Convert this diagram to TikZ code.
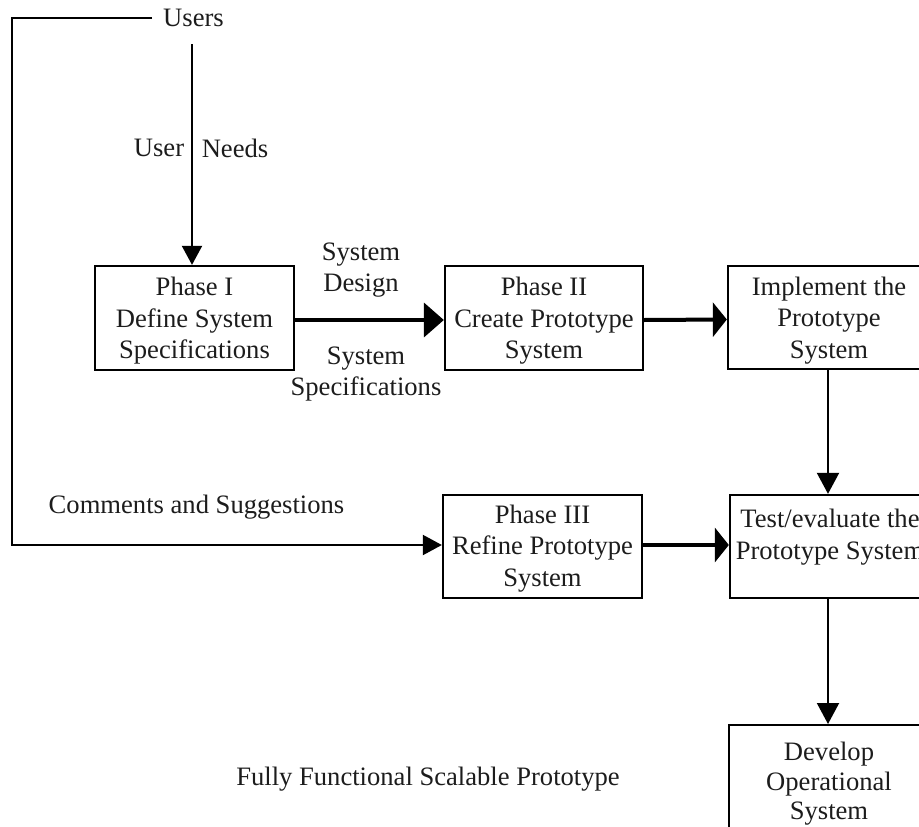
\documentclass[tikz,border=0pt]{standalone}
\usepackage{fontspec}
\setmainfont{Liberation Serif}
\usetikzlibrary{arrows.meta}
\definecolor{ink}{HTML}{1C1C1C}
\begin{document}
\begin{tikzpicture}[x=1pt,y=-1pt,
  every node/.style={text=ink, inner sep=0pt,
    font=\fontsize{26.6}{31.5}\selectfont},
  stagebox/.style={draw=black, line width=2.3pt, rectangle},
  label/.style={align=center},
  thinline/.style={draw=black, line width=2pt},
  thinarrow/.style={thinline, -{Triangle[length=19pt,width=20pt]}},
  downarrow/.style={thinline, -{Triangle[length=21pt,width=22pt]}},
  bigarrow/.style={draw=black, line width=4pt,
    -{Triangle[length=#1,width=34pt]}},
  bigarrow/.default=20pt
]
\useasboundingbox (0,0) rectangle (919,827);
\clip (0,0) rectangle (919,827);

% process stages: frame first, then its text
\node[stagebox, minimum width=199pt, minimum height=104pt] (p1) at (194.5,318) {};
\node[label] (p1txt) at ([yshift=-3pt]p1.center) {Phase I\\Define System\\Specifications};

\node[stagebox, minimum width=198pt, minimum height=104pt] (p2) at (544,318) {};
\node[label] (p2txt) at ([yshift=-3pt]p2.center) {Phase II\\Create Prototype\\System};

\node[stagebox, minimum width=202pt, minimum height=103pt] (impl) at (829,317.5) {};
\node[label] (impltxt) at ([yshift=-3pt]impl.center) {Implement the\\Prototype\\System};

\node[stagebox, minimum width=199pt, minimum height=103pt] (p3) at (542.5,546.5) {};
\node[label] (p3txt) at ([yshift=-2pt]p3.center) {Phase III\\Refine Prototype\\System};

\node[stagebox, minimum width=200pt, minimum height=103pt] (test) at (830,546.5) {};
\node[label, anchor=north] (testtxt) at ([yshift=-15pt]test.north)
  {Test/evaluate the\\Prototype System};

\node[stagebox, anchor=north, minimum width=200pt, minimum height=160pt]
  (dev) at (829,724) {};
\node[label, anchor=north, font=\fontsize{26.6}{29.5}\selectfont] (devtxt)
  at ([yshift=-18pt]dev.north) {Develop\\Operational\\System};

% free labels
\node (users) at (193.5,18) {Users};
\node (userlbl) at (159,148) {User};
\node (needslbl) at (235,148) {Needs};
\node[label] (design) at (361,270) {System\\Design};
\node[label] (specs) at (366,374) {System\\Specifications};
\node (comments) at (196.5,507) {Comments and Suggestions};
\node (fully) at (428,779) {Fully Functional Scalable Prototype};

% connectors
\coordinate (needsTop) at (192,44);
\coordinate (corner) at (12,18);
\draw[thinarrow] (needsTop) -- (needsTop |- p1.north);
\draw[thinarrow] ([xshift=-11pt]users.west) -- (corner) |- ([yshift=1.5pt]p3.west);
\draw[bigarrow] ([yshift=-2pt]p1.east) -- ([yshift=-2pt]p2.west);
\draw[bigarrow=14pt] ([yshift=-2pt]p2.east) -- ([yshift=-2pt]impl.west);
\draw[bigarrow=14pt] ([yshift=1.5pt]p3.east) -- ([yshift=1.5pt]test.west);
\draw[downarrow] ([xshift=-1pt]impl.south) -- ([xshift=-1pt]impl.south |- test.north);
\draw[downarrow] ([xshift=-2pt]test.south) -- ([xshift=-2pt]test.south |- dev.north);
\end{tikzpicture}
\end{document}
